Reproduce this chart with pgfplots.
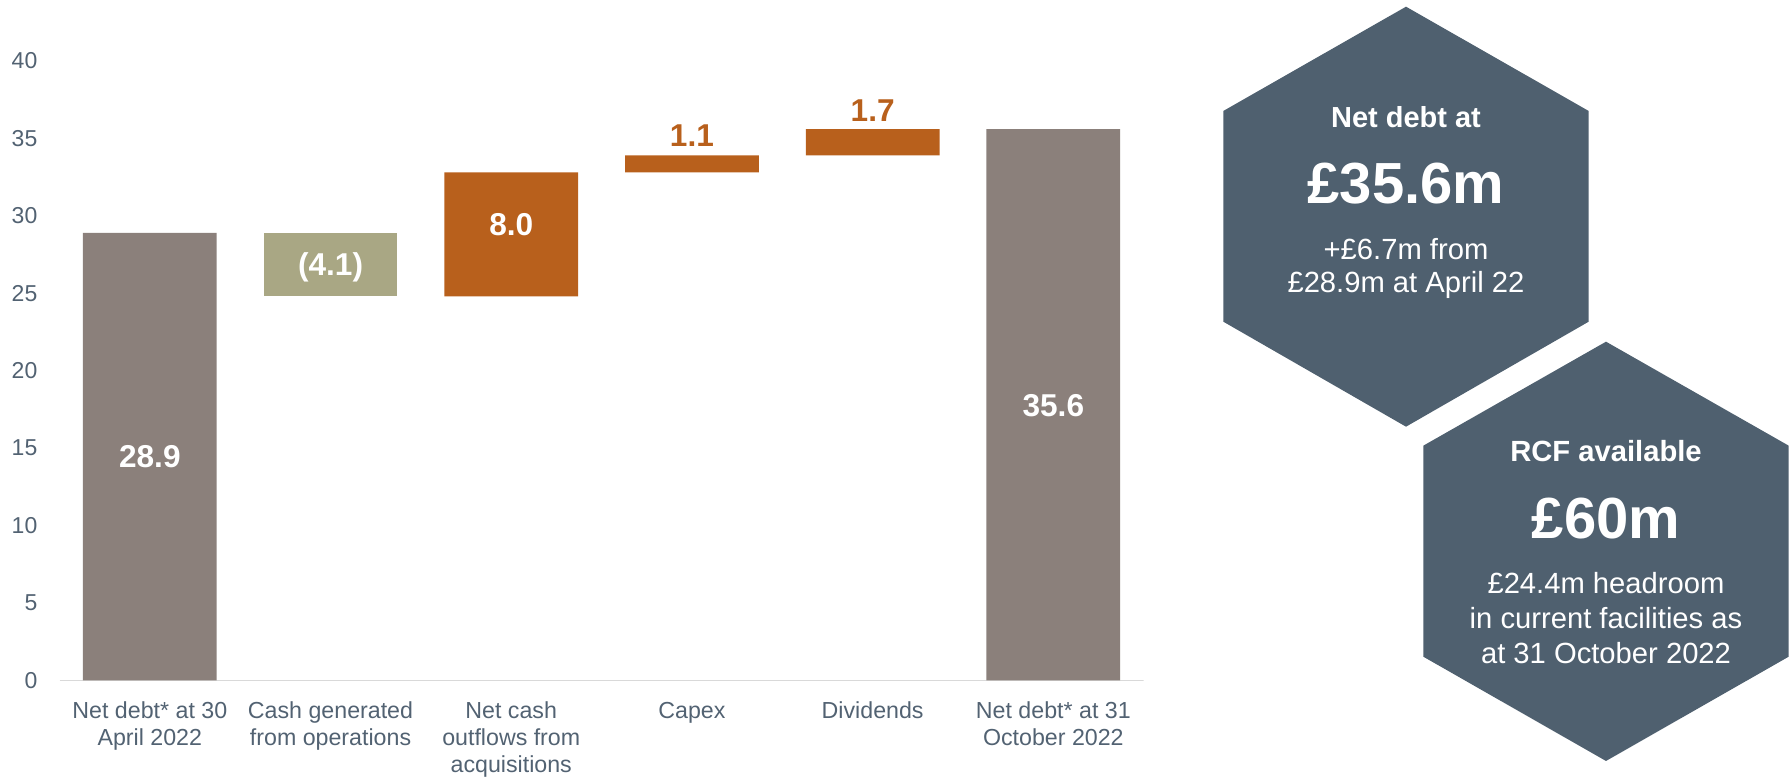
\documentclass[border=0pt]{standalone}
\usepackage{pgfplots}
\pgfplotsset{compat=1.18}
\usepackage{pgfplotstable}
\usepackage{fontspec}
\setmainfont{Liberation Sans}
\definecolor{bargray}{HTML}{8B807B}
\definecolor{olivec}{HTML}{A9A784}
\definecolor{orangec}{HTML}{B8601C}
\definecolor{hexcol}{HTML}{4F606F}
\definecolor{txtcol}{HTML}{526272}
\definecolor{linecol}{HTML}{D9D9D9}

\pgfplotstableread{
x base gray olive orange
0 0    28.9 0   0
1 24.8 0    4.1 0
2 24.8 0    0   8.0
3 32.8 0    0   1.1
4 33.9 0    0   1.7
5 0    35.6 0   0
}\waterfall

\pgfplotstableread{
x y label
0 14.45 28.9
1 26.7 (4.1)
2 29.4 8.0
5 17.75 35.6
}\inlabels

\pgfplotstableread{
x y label
3 35.2 1.1
4 36.8 1.7
}\toplabels

\begin{document}
\begin{tikzpicture}
\path[use as bounding box] (0,0) rectangle (895pt,389.5pt);

\begin{axis}[
  at={(29.75pt,49.25pt)}, anchor=south west,
  scale only axis, width=542.1pt, height=309.8pt,
  xmin=-0.5, xmax=5.5, ymin=0, ymax=40,
  ybar stacked, bar width=0.74,
  axis line style={draw=none},
  tick style={draw=none},
  major tick length=0pt,
  xtick={0,1,2,3,4,5},
  xticklabels={{Net debt* at 30\\April 2022},{Cash generated\\from operations},{Net cash\\outflows from\\acquisitions},{Capex},{Dividends},{Net debt* at 31\\October 2022}},
  xticklabel style={align=center, anchor=north, inner sep=0pt, yshift=-10.6pt,
    font=\fontsize{11.6}{13.3}\selectfont, text=txtcol},
  ytick={0,5,10,15,20,25,30,35,40},
  yticklabel style={anchor=east, inner sep=0pt, xshift=-10.9pt,
    font=\fontsize{11.5}{13}\selectfont, text=txtcol},
  /pgf/number format/assume math mode=true,
]
\addplot[fill=none, draw=none] table[x=x,y=base] {\waterfall};
\addplot[fill=bargray, draw=none] table[x=x,y=gray] {\waterfall};
\addplot[fill=olivec, draw=none] table[x=x,y=olive] {\waterfall};
\addplot[fill=orangec, draw=none] table[x=x,y=orange] {\waterfall};
\draw[linecol, line width=0.75pt] (rel axis cs:0,0) -- (rel axis cs:1,0);
\end{axis}

\begin{axis}[
  at={(29.75pt,49.25pt)}, anchor=south west,
  scale only axis, width=542.1pt, height=309.8pt,
  xmin=-0.5, xmax=5.5, ymin=0, ymax=40,
  axis lines=none, clip=false,
]
\addplot[only marks, mark=none, nodes near coords, point meta=explicit symbolic,
  nodes near coords style={anchor=center, inner sep=0pt, text=white,
  font=\bfseries\fontsize{15.8}{18}\selectfont}]
  table[x=x,y=y,meta=label] {\inlabels};
\addplot[only marks, mark=none, nodes near coords, point meta=explicit symbolic,
  nodes near coords style={anchor=center, inner sep=0pt, text=orangec,
  font=\bfseries\fontsize{15.8}{18}\selectfont}]
  table[x=x,y=y,meta=label] {\toplabels};
\end{axis}

\begin{scope}[x=0.5pt,y=0.5pt]
\fill[hexcol] (1406,772.3) -- (1588.7,668) -- (1588.7,457.3) -- (1406,352.3) -- (1223.3,457.3) -- (1223.3,668) -- cycle;
\fill[hexcol] (1606,437.3) -- (1788.7,333.3) -- (1788.7,122.3) -- (1606,18) -- (1423.3,122.3) -- (1423.3,333.3) -- cycle;
\node[anchor=base, text=white, inner sep=0pt, font=\bfseries\fontsize{14.5}{17}\selectfont] at (1406,651.5) {Net debt at};
\node[anchor=base, text=white, inner sep=0pt, font=\bfseries\fontsize{29}{34}\selectfont] at (1406,575) {£35.6m};
\node[anchor=base, text=white, inner sep=0pt, font=\fontsize{14.6}{17}\selectfont] at (1406,519) {+£6.7m from};
\node[anchor=base, text=white, inner sep=0pt, font=\fontsize{14.6}{17}\selectfont] at (1406,486.3) {£28.9m at April 22};
\node[anchor=base, text=white, inner sep=0pt, font=\bfseries\fontsize{14.6}{17}\selectfont] at (1606,317) {RCF available};
\node[anchor=base, text=white, inner sep=0pt, font=\bfseries\fontsize{29}{34}\selectfont] at (1606,240) {£60m};
\node[anchor=base, text=white, inner sep=0pt, font=\fontsize{14.6}{17}\selectfont] at (1606,185.7) {£24.4m headroom};
\node[anchor=base, text=white, inner sep=0pt, font=\fontsize{14.6}{17}\selectfont] at (1606,150.7) {in current facilities as};
\node[anchor=base, text=white, inner sep=0pt, font=\fontsize{14.6}{17}\selectfont] at (1606,115.7) {at 31 October 2022};
\end{scope}
\end{tikzpicture}
\end{document}
